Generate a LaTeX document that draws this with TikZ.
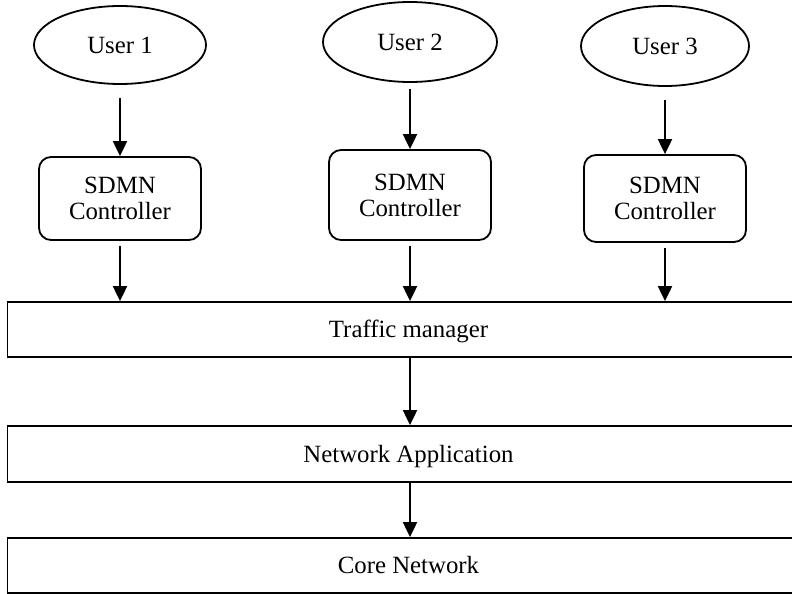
\documentclass[tikz,border=0pt]{standalone}
\usepackage{fontspec}
\setmainfont{Liberation Serif}
\usetikzlibrary{shapes.geometric,arrows.meta}

\begin{document}
\begin{tikzpicture}[x=0.5pt,y=-0.5pt,
    every node/.style={font=\fontsize{12.4}{13}\selectfont},
    user/.style={draw, line width=0.9pt, ellipse, inner sep=0pt, minimum width=86pt, minimum height=39pt},
    ctrl/.style={draw, line width=0.9pt, rounded corners=6pt, align=center, inner sep=0pt, minimum width=81pt},
    layer/.style={draw, line width=0.9pt, inner sep=0pt, text height=8pt, text depth=0pt, minimum width=401pt, minimum height=27.5pt},
    arr/.style={line width=1pt, -{Triangle[length=7.5pt,width=7pt]}}]

        \useasboundingbox (0,0) rectangle (792,594);
        \clip (0,0) rectangle (792,594);

        \node[user] (u1) at (120,45) {User 1};
        \node[user, minimum width=87pt, minimum height=40pt] (u2) at (410,42) {User 2};
        \node[user, minimum width=84pt, minimum height=40pt] (u3) at (665,46) {User 3};

        \node[ctrl, minimum height=41.5pt] (c1) at (120,198.5) {SDMN\\Controller};
        \node[ctrl, minimum height=45pt] (c2) at (410,195) {SDMN\\Controller};
        \node[ctrl, minimum height=43.5pt] (c3) at (665,198.5) {SDMN\\Controller};

        \node[layer] (tm) at (408.5,329.5) {Traffic manager};
        \node[layer, minimum height=28pt] (na) at (408.5,454) {Network Application};
        \node[layer] (cn) at (408.5,565.5) {Core Network};

        \draw[arr, shorten <=6.5pt] (u1) -- (c1);
        \draw[arr, shorten <=3pt] (u2) -- (c2);
        \draw[arr, shorten <=6.5pt] (u3) -- (c3);

        \draw[arr, shorten <=2.5pt] (c1.south) -- (c1.south |- tm.north);
        \draw[arr, shorten <=2.5pt] (c2.south) -- (c2.south |- tm.north);
        \draw[arr, shorten <=2.5pt] (c3.south) -- (c3.south |- tm.north);

        \draw[arr] (tm.south -| c2) -- (na.north -| c2);
        \draw[arr] (na.south -| c2) -- (cn.north -| c2);

    \end{tikzpicture}
\end{document}
